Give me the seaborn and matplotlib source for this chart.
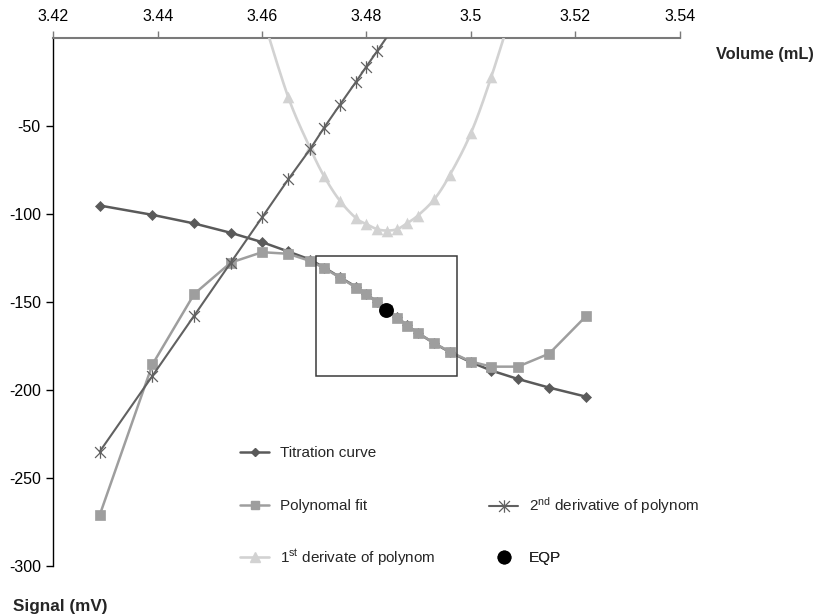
import numpy as np
import pandas as pd
import matplotlib
matplotlib.use("Agg")
import matplotlib.pyplot as plt
import seaborn as sns
from matplotlib.path import Path
from matplotlib.lines import Line2D
from matplotlib.patches import Rectangle

# --- data -------------------------------------------------------------------
volume = [3.4289, 3.4390, 3.4470, 3.4540, 3.4600, 3.4650, 3.4692, 3.4719,
          3.4749, 3.4780, 3.4799, 3.4820, 3.4839, 3.4859, 3.4878, 3.4898,
          3.4930, 3.4960, 3.5000, 3.5039, 3.5090, 3.5150, 3.5220]
titration = [-95.3, -100.6, -105.5, -110.8, -116.1, -121.4, -126.0, -130.5,
             -136.0, -141.5, -145.3, -150.0, -154.4, -158.8, -163.4, -167.6,
             -173.6, -178.6, -184.3, -189.0, -193.8, -198.7, -203.8]
poly_fit = [-271.0, -185.5, -145.5, -127.7, -121.8, -122.7, -126.8, -130.9,
            -136.2, -141.9, -145.6, -150.2, -154.4, -158.9, -163.5, -167.6,
            -173.5, -178.4, -183.9, -186.8, -186.8, -179.4, -158.3]

d2_volume = [3.4289, 3.4390, 3.4470, 3.4540, 3.4600, 3.4650, 3.4692, 3.4719,
             3.4749, 3.4780, 3.4799, 3.4820, 3.4859]
d2_signal = [-235.0, -192.0, -157.8, -127.7, -102.0, -80.5, -63.3, -51.0,
             -38.1, -25.0, -16.7, -7.8, 8.9]

d1_volume = [3.4600, 3.4650, 3.4692, 3.4719, 3.4749, 3.4780, 3.4799, 3.4820,
             3.4839, 3.4859, 3.4878, 3.4898, 3.4930, 3.4960, 3.5000, 3.5039,
             3.5090]
d1_signal = [13.0, -33.7, -62.7, -78.8, -92.6, -102.5, -105.7, -108.7,
             -109.5, -108.7, -105.3, -101.1, -91.7, -77.8, -54.2, -22.3, 26.0]

eqp_volume = [3.4838]
eqp_signal = [-154.4]

x_tick_labels = ["3.42", "3.44", "3.46", "3.48", "3.5", "3.52", "3.54"]
y_tick_values = [-300, -250, -200, -150, -100, -50]

# window around the equivalence point (volume range, signal range)
zoom_box = (3.4703, 3.4973, -192.0, -123.9)

# --- style ------------------------------------------------------------------
sns.set_theme(style="white")
plt.rcParams["font.family"] = ["Liberation Sans", "DejaVu Sans"]
plt.rcParams["mathtext.default"] = "regular"

C_TITR = "#5a5a5a"
C_POLY = "#9e9e9e"
C_D2 = "#616161"
C_D1 = "#d2d2d2"

star_marker = Path(
    [(-1, -1), (1, 1), (-1, 1), (1, -1), (0, -1.15), (0, 1.15)],
    [Path.MOVETO, Path.LINETO, Path.MOVETO, Path.LINETO, Path.MOVETO, Path.LINETO],
)


def smooth_curve(xs, ys, steps=24):
    """Bezier smoothing through every point (control points at 1/6 of neighbours)."""
    p = np.column_stack([xs, ys]).astype(float)
    p_ext = np.vstack([p[0], p, p[-1]])
    out = []
    t = np.linspace(0, 1, steps, endpoint=False)[:, None]
    for i in range(1, len(p_ext) - 2):
        p0, p1, p2, p3 = p_ext[i - 1], p_ext[i], p_ext[i + 1], p_ext[i + 2]
        c1 = p1 + (p2 - p0) / 6.0
        c2 = p2 - (p3 - p1) / 6.0
        seg = ((1 - t) ** 3) * p1 + 3 * ((1 - t) ** 2) * t * c1 \
            + 3 * (1 - t) * t ** 2 * c2 + t ** 3 * p2
        out.append(seg)
    out.append(p[-1][None, :])
    out = np.vstack(out)
    return out[:, 0], out[:, 1]


fig = plt.figure(figsize=(8.2, 6.15), dpi=100)
ax = fig.add_axes([53.3 / 820, 1 - 566 / 615, (679.7 - 53.3) / 820, (566 - 37.7) / 615])

main = pd.DataFrame({"volume": volume, "titration": titration, "poly": poly_fit})
d2 = pd.DataFrame({"volume": d2_volume, "signal": d2_signal})
d1 = pd.DataFrame({"volume": d1_volume, "signal": d1_signal})
sx, sy = smooth_curve(d1_volume, d1_signal)
d1_smooth = pd.DataFrame({"volume": sx, "signal": sy})

sns.lineplot(data=main, x="volume", y="titration", ax=ax, sort=False, estimator=None,
             color=C_TITR, linewidth=1.8, marker="D", markersize=5.5,
             markerfacecolor=C_TITR, markeredgecolor=C_TITR, markeredgewidth=0.5,
             zorder=2)
sns.lineplot(data=main, x="volume", y="poly", ax=ax, sort=False, estimator=None,
             color=C_POLY, linewidth=1.8, marker="s", markersize=6.8,
             markerfacecolor=C_POLY, markeredgecolor=C_POLY, markeredgewidth=0.5,
             zorder=3)
sns.lineplot(data=d1_smooth, x="volume", y="signal", ax=ax, sort=False, estimator=None,
             color=C_D1, linewidth=1.9, zorder=4)
sns.scatterplot(data=d1, x="volume", y="signal", ax=ax, marker="^", s=70,
                color=C_D1, linewidth=0, zorder=4)
sns.lineplot(data=d2, x="volume", y="signal", ax=ax, sort=False, estimator=None,
             color=C_D2, linewidth=1.5, marker=star_marker, markersize=9,
             markerfacecolor="none", markeredgecolor=C_D2, markeredgewidth=0.9,
             zorder=5)
sns.scatterplot(x=eqp_volume, y=eqp_signal, ax=ax, s=115, color="black",
                linewidth=0, zorder=6)

ax.add_patch(Rectangle((zoom_box[0], zoom_box[2]), zoom_box[1] - zoom_box[0],
                       zoom_box[3] - zoom_box[2], fill=False, edgecolor="#3a3a3a",
                       linewidth=1.1, zorder=7))

# --- axes -------------------------------------------------------------------
ax.set_xlim(3.42, 3.54)
ax.set_ylim(-300, 0)
x_ticks = [float(s) for s in x_tick_labels]
ax.xaxis.tick_top()
ax.set_xticks(x_ticks)
ax.set_xticklabels(x_tick_labels)
ax.set_yticks(y_tick_values)
ax.set_yticklabels([str(v) for v in y_tick_values])
ax.set_xlabel("")
ax.set_ylabel("")
ax.spines["bottom"].set_visible(False)
ax.spines["right"].set_visible(False)
ax.spines["top"].set_color("#7a7a7a")
ax.spines["top"].set_linewidth(1.5)
ax.spines["left"].set_color("black")
ax.spines["left"].set_linewidth(1.0)
ax.tick_params(axis="x", top=True, bottom=False, direction="out", length=5,
               width=1, color="#7a7a7a", labelsize=11.5, pad=5, labelcolor="black")
ax.tick_params(axis="y", left=True, direction="out", length=5, width=1,
               color="black", labelsize=11.5, pad=4, labelcolor="black")
ax.grid(False)

fig.text(716 / 820, 1 - 55 / 615, "Volume (mL)", fontsize=11.8, fontweight="bold",
         ha="left", va="center")
fig.text(13 / 820, 1 - 606 / 615, "Signal (mV)", fontsize=12.3, fontweight="bold",
         ha="left", va="center")

# --- legend: a grid of entries with fixed column and row positions ----------
h_titr = Line2D([], [], color=C_TITR, lw=1.8, marker="D", ms=4.5, mec=C_TITR)
h_poly = Line2D([], [], color=C_POLY, lw=1.8, marker="s", ms=6, mec=C_POLY)
h_d1 = Line2D([], [], color=C_D1, lw=1.9, marker="^", ms=7, mec=C_D1)
h_d2 = Line2D([], [], color=C_D2, lw=1.5, marker=star_marker, ms=9, mfc="none",
              mec=C_D2, mew=0.9)
h_eqp = Line2D([], [], color="black", lw=0, marker="o", ms=9)

col_x = [240, 489]
row_y = [453, 506, 558]
entries = [
    (h_titr, "Titration curve", 0, 0),
    (h_poly, "Polynomal fit", 0, 1),
    (h_d1, "1$^{st}$ derivate of polynom", 0, 2),
    (h_d2, "2$^{nd}$ derivative of polynom", 1, 1),
    (h_eqp, "EQP", 1, 2),
]
for handle, label, col, row in entries:
    leg = ax.legend([handle], [label], frameon=False, fontsize=11,
                    borderpad=0, borderaxespad=0, handlelength=1.9,
                    handletextpad=0.7, bbox_transform=fig.transFigure,
                    loc="center left",
                    bbox_to_anchor=(col_x[col] / 820, 1 - row_y[row] / 615))
    ax.add_artist(leg)

fig.savefig("out.png", dpi=100)
